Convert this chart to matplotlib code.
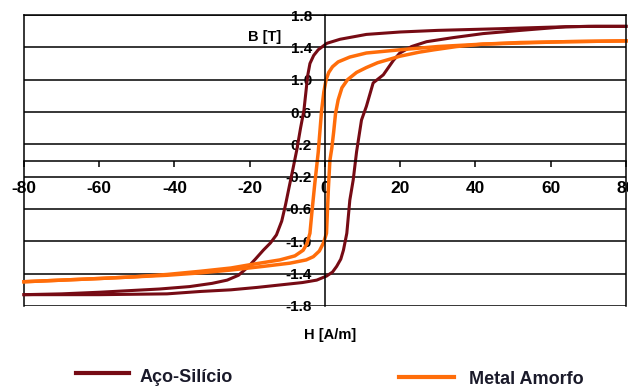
# Hysteresis loops: silicon steel vs amorphous metal (B-H curves)
import matplotlib.pyplot as plt
from matplotlib.lines import Line2D

plt.rcParams["font.family"] = ["Liberation Sans", "DejaVu Sans"]
plt.rcParams["font.weight"] = "bold"

# Data
# Aço-Silício, descending branch (H from +80 to -80)
aco_h_down = [80, 70, 60, 46, 30, 20, 11, 4, 0.5, -1.8, -3.0, -4.0, -4.6, -5.6, -6.5,
              -7.5, -8.5, -9.4, -10.5, -11.5, -12.9, -14.5, -16.4, -18.5, -20.5, -23,
              -26, -30, -36, -44, -52, -60, -70, -80]
aco_b_down = [1.66, 1.66, 1.65, 1.63, 1.61, 1.59, 1.56, 1.50, 1.45, 1.37, 1.30, 1.20,
              1.05, 0.62, 0.40, 0.13, -0.10, -0.30, -0.55, -0.75, -0.92, -1.02, -1.11,
              -1.22, -1.32, -1.42, -1.48, -1.52, -1.56, -1.59, -1.61, -1.63, -1.65, -1.66]
# Aço-Silício, ascending branch (H from -80 to +80)
aco_h_up = [-80, -70, -60, -51, -42, -33, -25, -18, -12, -6, -2.2, 0.4, 2.0, 3.1, 4.2,
            4.9, 5.8, 6.6, 7.5, 8.4, 9.7, 11.0, 12.8, 15.5, 18.2, 19.9, 23, 27, 34, 42,
            52, 64, 72, 80]
aco_b_up = [-1.66, -1.66, -1.66, -1.655, -1.65, -1.62, -1.60, -1.57, -1.54, -1.51, -1.48,
            -1.43, -1.38, -1.31, -1.22, -1.11, -0.90, -0.49, -0.24, 0.11, 0.50, 0.67,
            0.96, 1.06, 1.24, 1.33, 1.41, 1.47, 1.52, 1.57, 1.61, 1.655, 1.66, 1.66]

# Metal Amorfo, descending branch
amo_h_down = [80, 64, 42, 30, 20, 11, 6.6, 3.5, 2.0, 1.0, 0.3, -0.3, -0.9, -1.8, -2.7,
              -3.5, -4.0, -4.8, -5.8, -8, -12, -16, -20, -25, -33, -42, -51, -60, -70, -80]
amo_b_down = [1.48, 1.47, 1.44, 1.41, 1.37, 1.33, 1.28, 1.22, 1.16, 1.09, 1.00, 0.85,
              0.62, 0.10, -0.28, -0.65, -0.90, -1.03, -1.11, -1.18, -1.23, -1.26, -1.29,
              -1.33, -1.37, -1.41, -1.44, -1.46, -1.48, -1.50]
# Metal Amorfo, ascending branch
amo_h_up = [-80, -70, -60, -51, -42, -33, -25, -16.4, -9.3, -5, -3.1, -1.5, -0.4, 0.4,
            0.9, 1.3, 1.8, 2.3, 2.8, 3.5, 4.5, 6.0, 8.4, 11, 14, 19.9, 25, 29, 35, 42,
            52, 64, 80]
amo_b_up = [-1.50, -1.48, -1.46, -1.44, -1.42, -1.39, -1.355, -1.31, -1.27, -1.23, -1.19,
            -1.12, -1.02, -0.90, -0.35, 0.0, 0.15, 0.35, 0.58, 0.75, 0.90, 1.00, 1.09,
            1.15, 1.21, 1.29, 1.34, 1.37, 1.41, 1.44, 1.46, 1.47, 1.48]

x_ticks = [-80, -60, -40, -20, 0, 20, 40, 60, 80]
y_ticks = [1.8, 1.4, 1.0, 0.6, 0.2, -0.2, -0.6, -1.0, -1.4, -1.8]

aco_color = "#760b14"
amo_color = "#ff6d0a"

fig = plt.figure(figsize=(6.28, 3.89), dpi=100)
ax = fig.add_axes([0.0382, 0.2134, 0.9586, 0.748])
ax.set_xlim(-80, 80)
ax.set_ylim(-1.8, 1.8)

# axes cross at the origin
ax.spines["left"].set_position(("data", 0))
ax.spines["bottom"].set_position(("data", 0))
for s in ax.spines.values():
    s.set_color("black")
    s.set_linewidth(1.1)
ax.axvline(-80, color="black", lw=1.1, clip_on=False)

# horizontal grid lines
for yv in y_ticks:
    ax.axhline(yv, color="black", lw=1.1)

ax.set_xticks(x_ticks, labels=[str(v) for v in x_ticks])
ax.set_yticks(y_ticks, labels=[f"{v:.1f}" for v in y_ticks])
ax.tick_params(axis="x", direction="out", length=4, width=1.1, pad=11,
               labelsize=12.5)
ax.tick_params(axis="y", length=0, pad=9.5, labelsize=11)
for lab in ax.get_xticklabels() + ax.get_yticklabels():
    lab.set_fontweight("bold")

# curves
ax.plot(aco_h_down, aco_b_down, color=aco_color, lw=2.2, clip_on=False)
ax.plot(aco_h_up, aco_b_up, color=aco_color, lw=2.2, clip_on=False)
ax.plot(amo_h_down, amo_b_down, color=amo_color, lw=2.5, clip_on=False)
ax.plot(amo_h_up, amo_b_up, color=amo_color, lw=2.5, clip_on=False)

# axis titles
fig.text(265 / 628, 1 - 37 / 389, "B [T]", ha="center", va="center",
         fontsize=10.5, fontweight="bold")
fig.text(330 / 628, 1 - 335 / 389, "H [A/m]", ha="center", va="center",
         fontsize=10.5, fontweight="bold")

# legend (drawn by hand, two entries side by side)
fig.add_artist(Line2D([76 / 628, 129 / 628], [1 - 373 / 389, 1 - 373 / 389],
                      color=aco_color, lw=3, transform=fig.transFigure))
fig.text(140 / 628, 1 - 377 / 389, "Aço-Silício", ha="left", va="center",
         fontsize=13, fontweight="bold", color="#1a1a2a")
fig.add_artist(Line2D([399 / 628, 454 / 628], [1 - 377 / 389, 1 - 377 / 389],
                      color=amo_color, lw=3, transform=fig.transFigure))
fig.text(469 / 628, 1 - 380 / 389, "Metal Amorfo", ha="left", va="center",
         fontsize=13, fontweight="bold", color="#1a1a2a")

fig.savefig("out.png", dpi=100)
